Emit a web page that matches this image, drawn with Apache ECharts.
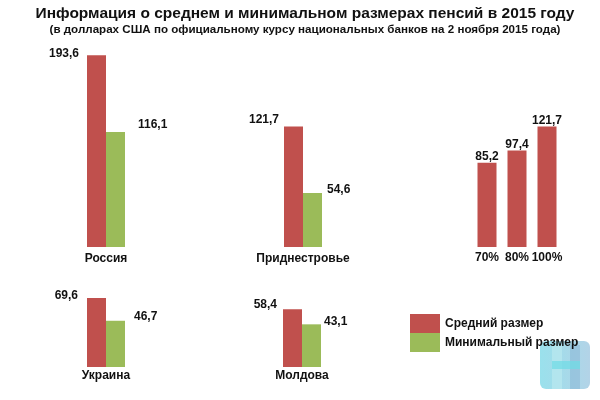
<!DOCTYPE html>
<html>
<head>
<meta charset="utf-8">
<script src="https://cdn.jsdelivr.net/npm/echarts@6/dist/echarts.min.js"></script>
<style>html,body{margin:0;padding:0;background:#fff}#c{width:600px;height:400px}</style>
</head>
<body>
<div id="c"></div>
<script>
const countries = ['Россия', 'Приднестровье', 'Украина', 'Молдова'];
const avgPension = [193.6, 121.7, 69.6, 58.4];
const minPension = [116.1, 54.6, 46.7, 43.1];
const pmrLevels = ['70%', '80%', '100%'];
const pmrValues = [85.2, 97.4, 121.7];
const seriesNames = ['Средний размер', 'Минимальный размер'];

const RED = '#c0504d', GREEN = '#9bbb59';
const FONT = '"Liberation Sans", Arial, sans-serif';
const fmt = p => String(p.value).replace('.', ',');

// grid layout per country (style only)
const layout = [
  { left: 70, top: 49, redOff: [-8, -2], greenOff: [32, -7], margin: 6 },
  { left: 267, top: 49, redOff: [-5, -7], greenOff: [24, -3], margin: 6 },
  { left: 70, top: 169, redOff: [-9, -2], greenOff: [28, -4], margin: 3 },
  { left: 266, top: 169, redOff: [-6, -4], greenOff: [22, -3], margin: 3 }
];

const grids = [], xAxes = [], yAxes = [], series = [];
const axisLabelStyle = { color: '#111', fontWeight: 'bold', fontSize: 12, fontFamily: FONT, interval: 0 };
const valLabel = { show: true, color: '#111', fontWeight: 'bold', fontSize: 12, fontFamily: FONT, formatter: fmt };

countries.forEach((c, i) => {
  const L = layout[i];
  grids.push({ left: L.left, top: L.top, width: 72, height: 198 });
  xAxes.push({ gridIndex: i, type: 'category', data: [c], axisLine: { show: false }, axisTick: { show: false },
    axisLabel: Object.assign({ margin: L.margin }, axisLabelStyle) });
  yAxes.push({ gridIndex: i, type: 'value', min: 0, max: 200, show: false, splitLine: { show: false } });
  series.push({ name: seriesNames[0], type: 'bar', xAxisIndex: i, yAxisIndex: i, data: [avgPension[i]],
    barWidth: 19, barGap: 0, itemStyle: { color: RED },
    label: Object.assign({ position: L.redOff, align: 'right', verticalAlign: 'middle' }, valLabel) });
  series.push({ name: seriesNames[1], type: 'bar', xAxisIndex: i, yAxisIndex: i, data: [minPension[i]],
    barWidth: 19, barGap: 0, itemStyle: { color: GREEN },
    label: Object.assign({ position: L.greenOff, align: 'left', verticalAlign: 'middle' }, valLabel) });
});

// PMR levels group
const gi = countries.length;
grids.push({ left: 472, top: 49, width: 90, height: 198 });
xAxes.push({ gridIndex: gi, type: 'category', data: pmrLevels, axisLine: { show: false }, axisTick: { show: false },
  axisLabel: Object.assign({ margin: 5 }, axisLabelStyle) });
yAxes.push({ gridIndex: gi, type: 'value', min: 0, max: 200, show: false, splitLine: { show: false } });
series.push({ name: seriesNames[0], type: 'bar', xAxisIndex: gi, yAxisIndex: gi, data: pmrValues,
  barWidth: 19, itemStyle: { color: RED },
  label: Object.assign({ position: 'top', distance: 0 }, valLabel) });

const option = {
  backgroundColor: '#fff',
  animation: false,
  title: {
    text: 'Информация о среднем и минимальном размерах пенсий в 2015 году',
    subtext: '(в долларах США по официальному курсу национальных банков на 2 ноября 2015 года)',
    left: 305, top: 6, textAlign: 'center', itemGap: 2, padding: 0,
    textStyle: { fontFamily: FONT, fontWeight: 'bold', fontSize: 15.5, color: '#111' },
    subtextStyle: { fontFamily: FONT, fontWeight: 'bold', fontSize: 11.6, color: '#111' }
  },
  legend: {
    data: seriesNames, orient: 'vertical', left: 410, top: 314, padding: 0,
    itemWidth: 30, itemHeight: 19, itemGap: 0, icon: 'rect',
    textStyle: { fontFamily: FONT, fontWeight: 'bold', fontSize: 12, color: '#111' }
  },
  grid: grids, xAxis: xAxes, yAxis: yAxes, series: series,
  graphic: [{
    type: 'group', left: 540, top: 341, z: 100,
    children: [
      { type: 'rect', shape: { x: 0, y: 0, width: 50, height: 48, r: 6 },
        style: { fill: { type: 'linear', x: 0, y: 0, x2: 1, y2: 0, colorStops: [
          { offset: 0, color: 'rgba(120,215,230,0.75)' }, { offset: 1, color: 'rgba(160,200,225,0.8)' } ] } } },
      { type: 'rect', shape: { x: 12, y: 4, width: 10, height: 44 }, style: { fill: 'rgba(190,235,240,0.6)' } },
      { type: 'rect', shape: { x: 30, y: 4, width: 10, height: 44 }, style: { fill: 'rgba(140,185,215,0.6)' } },
      { type: 'rect', shape: { x: 12, y: 20, width: 28, height: 8 }, style: { fill: 'rgba(110,220,230,0.7)' } }
    ]
  }]
};
echarts.init(document.getElementById('c')).setOption(option);
</script>
</body>
</html>
